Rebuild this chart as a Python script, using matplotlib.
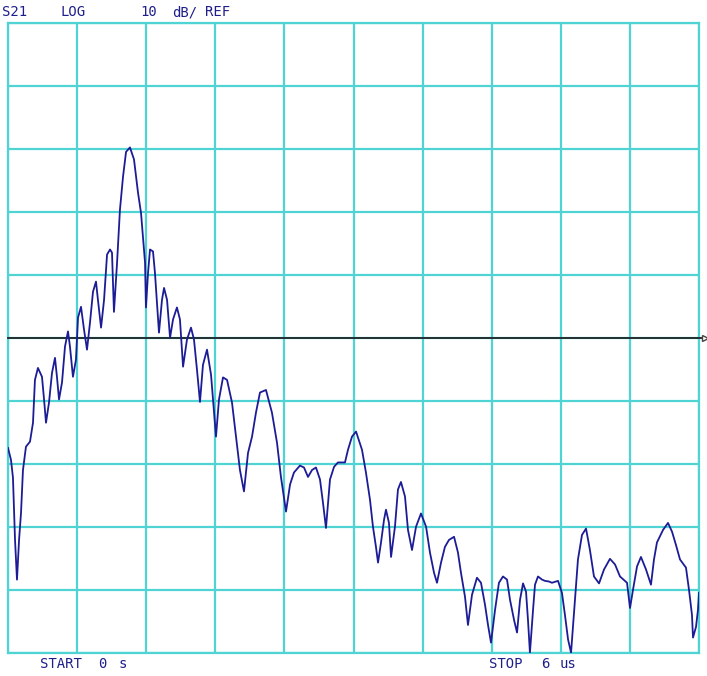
import numpy as np
import matplotlib
matplotlib.use('Agg')
import matplotlib.pyplot as plt

# S21 time domain trace, 10 dB/div, ref at 0 dB, 0 .. 6 us
t_us = [0.0, 0.026, 0.043, 0.052, 0.061, 0.078, 0.096, 0.113, 0.130, 0.156,
        0.191, 0.217, 0.234, 0.260, 0.295, 0.313, 0.330, 0.356, 0.382, 0.408,
        0.425, 0.443, 0.469, 0.495, 0.521, 0.538, 0.564, 0.590, 0.608, 0.634,
        0.660, 0.686, 0.712, 0.738, 0.764, 0.781, 0.808, 0.834, 0.860, 0.886,
        0.903, 0.920, 0.946, 0.972, 0.999, 1.025, 1.059, 1.094, 1.129, 1.155,
        1.172, 1.190, 1.198, 1.216, 1.233, 1.259, 1.276, 1.311, 1.337, 1.355,
        1.381, 1.407, 1.433, 1.467, 1.493, 1.520, 1.554, 1.589, 1.615, 1.641,
        1.667, 1.693, 1.728, 1.763, 1.780, 1.806, 1.832, 1.867, 1.902, 1.945,
        1.980, 2.014, 2.049, 2.084, 2.119, 2.153, 2.188, 2.240, 2.292, 2.336,
        2.370, 2.414, 2.449, 2.483, 2.535, 2.570, 2.605, 2.640, 2.674, 2.709,
        2.735, 2.761, 2.796, 2.831, 2.865, 2.926, 2.952, 2.987, 3.022, 3.074,
        3.108, 3.143, 3.169, 3.195, 3.213, 3.239, 3.265, 3.282, 3.308, 3.326,
        3.360, 3.386, 3.412, 3.447, 3.473, 3.508, 3.543, 3.586, 3.630, 3.664,
        3.699, 3.725, 3.760, 3.794, 3.829, 3.873, 3.907, 3.933, 3.968, 3.994,
        4.029, 4.072, 4.107, 4.142, 4.168, 4.194, 4.229, 4.263, 4.298, 4.333,
        4.359, 4.394, 4.420, 4.446, 4.472, 4.498, 4.515, 4.532, 4.559, 4.576,
        4.602, 4.637, 4.663, 4.697, 4.723, 4.776, 4.810, 4.836, 4.863, 4.889,
        4.923, 4.949, 4.984, 5.019, 5.053, 5.088, 5.132, 5.175, 5.227, 5.271,
        5.314, 5.375, 5.401, 5.427, 5.462, 5.496, 5.540, 5.583, 5.609, 5.635,
        5.688, 5.731, 5.766, 5.800, 5.835, 5.887, 5.913, 5.939, 5.948, 5.974,
        5.991, 6.000]
s21_db = [-17.5, -19.4, -22.2, -27.3, -32.1, -38.4, -32.1, -27.8, -21.0, -17.3,
          -16.5, -13.5, -6.7, -4.8, -6.2, -9.8, -13.5, -10.3, -5.6, -3.2,
          -6.2, -9.8, -7.1, -1.4, 1.0, -1.4, -6.2, -3.5, 3.2, 4.9,
          1.3, -1.9, 2.4, 7.3, 8.9, 6.0, 1.6, 6.0, 13.2, 14.0,
          13.5, 4.1, 11.6, 20.3, 25.6, 29.5, 30.2, 28.3, 23.0, 19.8,
          16.0, 11.9, 4.8, 10.3, 14.0, 13.7, 10.3, 0.8, 6.0, 7.9,
          6.0, 0.0, 2.9, 4.8, 2.9, -4.6, -0.3, 1.6, -0.3, -5.1,
          -10.2, -4.3, -1.9, -5.9, -9.8, -15.7, -9.8, -6.3, -6.7, -10.3,
          -15.7, -21.0, -24.4, -18.3, -15.7, -11.9, -8.7, -8.3, -11.9, -16.7,
          -22.1, -27.6, -23.3, -21.4, -20.3, -20.6, -22.1, -21.0, -20.6, -22.5,
          -26.2, -30.2, -22.5, -20.5, -19.8, -19.8, -17.8, -15.7, -14.9, -17.8,
          -21.4, -25.7, -30.0, -33.2, -35.7, -32.5, -28.9, -27.3, -29.4, -34.8,
          -30.0, -24.1, -22.9, -25.2, -30.5, -33.7, -30.0, -27.9, -30.0, -34.1,
          -37.3, -38.9, -35.7, -33.2, -32.1, -31.6, -34.1, -37.3, -41.1, -45.6,
          -40.8, -38.1, -38.9, -42.4, -45.6, -48.4, -43.2, -38.9, -37.9, -38.4,
          -41.6, -44.8, -46.8, -41.6, -39.0, -40.3, -44.8, -50.0, -43.2, -39.2,
          -37.9, -38.4, -38.6, -38.7, -38.9, -38.6, -40.5, -44.0, -47.9, -50.0,
          -41.6, -35.2, -31.3, -30.3, -33.7, -37.9, -39.0, -36.8, -35.1, -36.0,
          -37.9, -38.9, -42.9, -40.0, -36.3, -34.8, -36.8, -39.2, -35.2, -32.5,
          -30.5, -29.4, -30.8, -32.9, -35.2, -36.5, -40.0, -44.0, -47.6, -45.9,
          -43.2, -40.5]

t_start, t_stop = 0.0, 6.0
ref_db = 0.0
db_per_div = 10
n_div = 10

grid_col = '#4fd3d3'
trace_col = '#1c1c96'
text_col = '#1e1e8a'

fig = plt.figure(figsize=(7.07, 6.76), dpi=100)
ax = fig.add_axes([8/707, 23.3/676, 691/707, 630/676])
ax.set_xlim(t_start, t_stop)
ax.set_ylim(ref_db - 5*db_per_div, ref_db + 5*db_per_div)
ax.set_xticks(np.linspace(t_start, t_stop, n_div + 1))
ax.set_yticks(np.arange(-5, 6) * db_per_div + ref_db)
ax.grid(True, color=grid_col, lw=1.6)
ax.tick_params(length=0, labelbottom=False, labelleft=False)
for s in ax.spines.values():
    s.set_color(grid_col)
    s.set_linewidth(1.6)

# reference line runs past the graticule to the edge
ax.plot([t_start, 6.07], [ref_db, ref_db], color='#222222', lw=1.3,
        clip_on=False, zorder=3)
ax.plot([6.05], [ref_db], marker='>', ms=4, color='#444444', mfc='white',
        clip_on=False, zorder=3)

ax.plot(t_us, s21_db, color=trace_col, lw=1.3, zorder=4)

fnt = dict(family='DejaVu Sans Mono', fontsize=10, color=text_col,
           va='center', ha='left')
fig.text(2/707, 1 - 12/676, 'S21', **fnt)
fig.text(60/707, 1 - 12/676, 'LOG', **fnt)
fig.text(140/707, 1 - 12/676, '10', **fnt)
fig.text(172/707, 1 - 12/676, 'dB/', **fnt)
fig.text(205/707, 1 - 12/676, 'REF', **fnt)
fig.text(40/707, 1 - 664/676, 'START', **fnt)
fig.text(98/707, 1 - 664/676, '0', **fnt)
fig.text(119/707, 1 - 664/676, 's', **fnt)
fig.text(489/707, 1 - 664/676, 'STOP', **fnt)
fig.text(541/707, 1 - 664/676, '6', **fnt)
fig.text(560/707, 1 - 664/676, 'us', **fnt)

fig.savefig('out.png', dpi=100)
